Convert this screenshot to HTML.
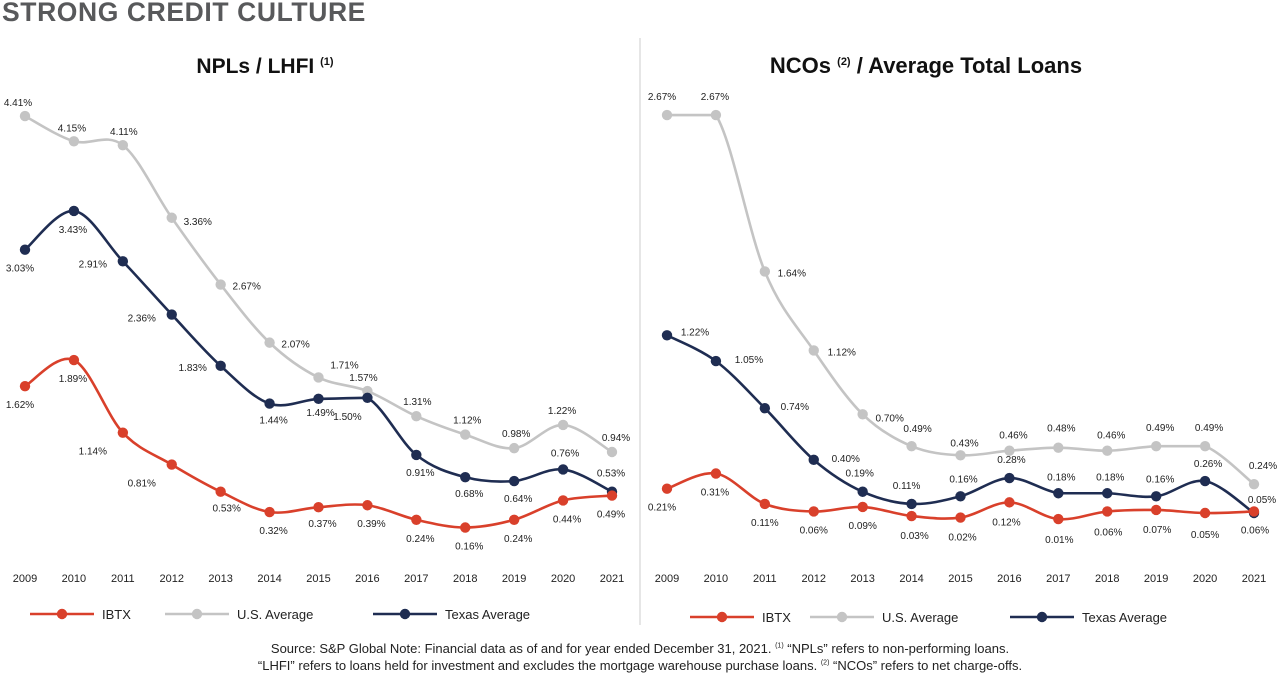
<!DOCTYPE html>
<html><head><meta charset="utf-8">
<style>
body{margin:0;width:1280px;height:676px;background:#fff;font-family:"Liberation Sans",sans-serif;overflow:hidden;position:relative}
#hdr{position:absolute;left:2px;top:-3px;font-size:26.5px;font-weight:bold;color:#58595b;letter-spacing:0.6px}
svg{position:absolute;left:0;top:0}
.src{position:absolute;left:0;width:1280px;text-align:center;font-size:13px;color:#222}
</style></head><body>
<div id="hdr">STRONG CREDIT CULTURE</div>
<svg id="chart" width="1280" height="676"></svg>
<div class="src" style="top:641px">Source: S&amp;P Global Note: Financial data as of and for year ended December 31, 2021. <sup style="font-size:7px">(1)</sup> “NPLs” refers to non-performing loans.</div>
<div class="src" style="top:658px">“LHFI” refers to loans held for investment and excludes the mortgage warehouse purchase loans. <sup style="font-size:7px">(2)</sup> “NCOs” refers to net charge-offs.</div>
<script>
const years=[2009,2010,2011,2012,2013,2014,2015,2016,2017,2018,2019,2020,2021];
const nplIBTX=[1.62,1.89,1.14,0.81,0.53,0.32,0.37,0.39,0.24,0.16,0.24,0.44,0.49];
const nplUS=[4.41,4.15,4.11,3.36,2.67,2.07,1.71,1.57,1.31,1.12,0.98,1.22,0.94];
const nplTX=[3.03,3.43,2.91,2.36,1.83,1.44,1.49,1.50,0.91,0.68,0.64,0.76,0.53];
const ncoIBTX=[0.21,0.31,0.11,0.06,0.09,0.03,0.02,0.12,0.01,0.06,0.07,0.05,0.06];
const ncoUS=[2.67,2.67,1.64,1.12,0.70,0.49,0.43,0.46,0.48,0.46,0.49,0.49,0.24];
const ncoTX=[1.22,1.05,0.74,0.40,0.19,0.11,0.16,0.28,0.18,0.18,0.16,0.26,0.05];
// label offsets (layout only)
const offL={ib:[[-5,22],[-1,22],[-30,22],[-30,22],[6,20],[4,22],[4,20],[4,22],[4,22],[4,22],[4,22],[4,22],[-1,22]],
 us:[[-7,-10],[-2,-10],[1,-10],[26,7],[26,5],[26,5],[26,-9],[-4,-10],[1,-11],[2,-11],[2,-11],[-1,-11],[4,-11]],
 tx:[[-5,22],[-1,22],[-30,6],[-30,7],[-28,5],[4,20],[2,17],[-20,22],[4,21],[4,20],[4,21],[2,-13],[-1,-15]]};
const offR={ib:[[-5,22],[-1,22],[0,22],[0,22],[0,22],[3,23],[2,23],[-3,23],[1,24],[1,24],[1,23],[0,25],[1,22]],
 us:[[-5,-15],[-1,-15],[27,5],[28,5],[27,7],[6,-14],[4,-9],[4,-12],[3,-16],[4,-12],[4,-15],[4,-15],[9,-15]],
 tx:[[28,0],[33,2],[30,2],[32,2],[-3,-15],[-5,-15],[3,-14],[2,-15],[3,-13],[3,-13],[4,-14],[3,-14],[8,-10]]};
const RED="#d9402b",GRAY="#c4c4c4",NAVY="#1f2d52";
const svg=document.getElementById('chart');
const NS="http://www.w3.org/2000/svg";
function mk(t,a,parent){const e=document.createElementNS(NS,t);for(const k in a)e.setAttribute(k,a[k]);(parent||svg).appendChild(e);return e;}
function path(pts){let d=`M${pts[0][0]},${pts[0][1]}`;for(let i=0;i<pts.length-1;i++){const p0=pts[Math.max(0,i-1)],p1=pts[i],p2=pts[i+1],p3=pts[Math.min(pts.length-1,i+2)];let c1=[p1[0]+(p2[0]-p0[0])/6,p1[1]+(p2[1]-p0[1])/6],c2=[p2[0]-(p3[0]-p1[0])/6,p2[1]-(p3[1]-p1[1])/6];if(Math.abs(p2[1]-p1[1])<1){c1[1]=p1[1];c2[1]=p2[1];}d+=` C${c1[0]},${c1[1]} ${c2[0]},${c2[1]} ${p2[0]},${p2[1]}`;}return d;}
function chart(x0,x1,y0,scale,series,offs,pre){
 const xs=i=>x0+(x1-x0)*i/(years.length-1), ys=v=>y0-v*scale;
 years.forEach((yr,i)=>{const t=mk('text',{x:xs(i),y:582,'text-anchor':'middle','font-size':11,fill:'#222'});t.textContent=yr;
 
 });
 series.forEach(s=>{
  const pts=s.vals.map((v,i)=>[xs(i),ys(v)]);
  const p=mk('path',{d:path(pts),fill:'none',stroke:s.col,'stroke-width':2.6});
  
  
  pts.forEach((q,i)=>{const c=mk('circle',{cx:q[0],cy:q[1],r:5.2,fill:s.col});
   
   
   const o=offs[s.key][i];
   const t=mk('text',{x:q[0]+o[0],y:q[1]+o[1],'text-anchor':'middle','font-size':10,fill:'#222'});
   t.textContent=s.vals[i].toFixed(2)+'%';
   
   });
 });
}
chart(25,612,543,96.8,[{key:'us',vals:nplUS,col:GRAY},{key:'tx',vals:nplTX,col:NAVY},{key:'ib',vals:nplIBTX,col:RED}],offL,'npl');
chart(667,1254,520.6,151.9,[{key:'us',vals:ncoUS,col:GRAY},{key:'tx',vals:ncoTX,col:NAVY},{key:'ib',vals:ncoIBTX,col:RED}],offR,'nco');
// titles
let t=mk('text',{x:265,y:73,'text-anchor':'middle','font-size':21,'font-weight':'bold',fill:'#111'});t.innerHTML='NPLs / LHFI <tspan font-size="11" dy="-8">(1)</tspan>';


t=mk('text',{x:926,y:73,'text-anchor':'middle','font-size':22,'font-weight':'bold',fill:'#111'});t.innerHTML='NCOs <tspan font-size="11" dy="-8">(2)</tspan><tspan dy="8"> / Average Total Loans</tspan>';


const dv=mk('line',{x1:640,y1:38,x2:640,y2:625,stroke:'#ccc','stroke-width':1});


function legend(x,y,col,label,pre){
 const g=mk('g',{});
 
 
 mk('line',{x1:x,y1:y,x2:x+64,y2:y,stroke:col,'stroke-width':2.6},g);
 mk('circle',{cx:x+32,cy:y,r:5.2,fill:col},g);
 const tt=mk('text',{x:x+72,y:y+5,'font-size':13,fill:'#222'},g);tt.textContent=label;
}
legend(30,614,RED,'IBTX','npl');legend(165,614,GRAY,'U.S. Average','npl');legend(373,614,NAVY,'Texas Average','npl');
legend(690,617,RED,'IBTX','nco');legend(810,617,GRAY,'U.S. Average','nco');legend(1010,617,NAVY,'Texas Average','nco');
</script>
</body></html>
